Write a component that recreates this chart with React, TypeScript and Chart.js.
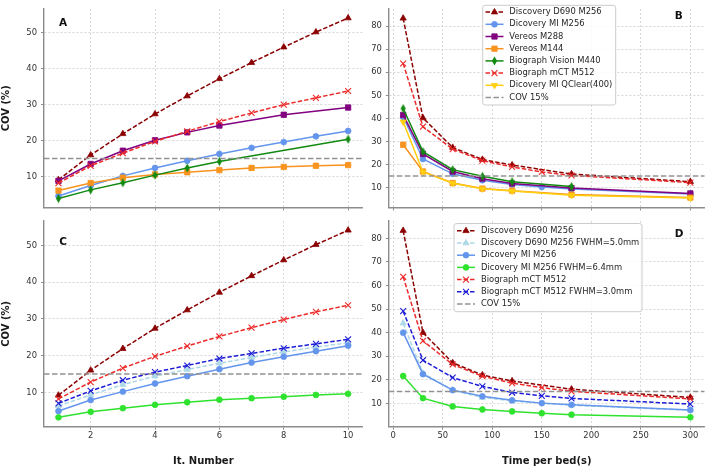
import React, { useEffect, useRef } from 'react';
import { Chart, registerables } from 'chart.js';
import { drawPoint } from 'chart.js/helpers';

Chart.register(...registerables);

// ---------- data ----------
const ITER = [1, 2, 3, 4, 5, 6, 7, 8, 9, 10];
const TIME = [10, 30, 60, 90, 120, 150, 180, 300];
const ITER_TICKS = [2, 4, 6, 8, 10];
const TIME_TICKS = [0, 50, 100, 150, 200, 250, 300];
const COV_TICKS_LEFT = [10, 20, 30, 40, 50];
const COV_TICKS_RIGHT = [10, 20, 30, 40, 50, 60, 70, 80];
const COV_THRESHOLD = 15;

// Panel A (COV vs iteration number)
const A_D690 = [9.1, 16.0, 21.9, 27.4, 32.4, 37.2, 41.7, 46.0, 50.2, 54.1];
const A_MI = [4.6, 7.5, 10.2, 12.4, 14.4, 16.3, 18.0, 19.6, 21.2, 22.7];
const A_VEREOS288 = [8.8, 13.5, 17.2, 20.1, 22.3, 24.2, null, 27.2, null, 29.2];
const A_VEREOS144 = [6.1, 8.2, 9.7, 10.6, 11.2, 11.8, 12.4, 12.7, 13.0, 13.2];
const A_VISION = [3.9, 6.3, 8.3, 10.4, 12.4, 14.2, null, null, null, 20.4];
const A_MCT = [8.2, 13.0, 16.5, 19.8, 22.6, 25.3, 27.7, 30.0, 31.9, 33.8];

// Panel B (COV vs time per bed)
const B_D690 = [83.4, 40.2, 27.4, 22.2, 19.8, null, 15.9, 12.6];
const B_MI = [40.6, 22.4, 16.0, 13.2, 11.4, 10.3, 9.4, 7.3];
const B_VEREOS288 = [41.5, 24.6, 17.0, 13.9, 11.8, null, 9.8, 7.5];
const B_VEREOS144 = [28.6, 17.0, 12.0, 9.6, 8.7, null, 7.0, 5.7];
const B_VISION = [44.3, 25.6, 17.8, 14.9, 12.6, null, 10.5, null];
const B_MCT = [63.8, 36.4, 26.7, 21.7, 19.0, 16.8, 15.3, 12.2];
const B_QCLEAR = [38.5, 16.8, 11.9, 9.5, 8.5, null, 6.7, 5.5];

// Panel C (COV vs iteration number, with post-filters)
const C_D690 = [9.2, 16.0, 21.9, 27.4, 32.4, 37.2, 41.7, 46.0, 50.2, 54.1];
const C_D690_FWHM = [6.3, 9.3, 12.1, 14.4, 16.2, 17.9, 19.5, 21.0, 22.3, 23.5];
const C_MI = [4.9, 7.9, 10.2, 12.4, 14.4, 16.3, 18.1, 19.7, 21.2, 22.7];
const C_MI_FWHM = [3.2, 4.7, 5.7, 6.6, 7.3, 8.0, 8.4, 8.8, 9.3, 9.6];
const C_MCT = [8.2, 12.8, 16.6, 19.8, 22.6, 25.2, 27.6, 29.8, 31.9, 33.7];
const C_MCT_FWHM = [7.0, 10.4, 13.3, 15.5, 17.3, 19.2, 20.6, 22.0, 23.2, 24.4];

// Panel D (COV vs time per bed, with post-filters)
const D_D690 = [83.3, 40.0, 27.2, 22.0, 19.5, null, 16.0, 12.5];
const D_D690_FWHM = [44.0, 22.8, 15.6, 12.5, 11.0, null, 9.2, 7.1];
const D_MI = [40.0, 22.4, 15.6, 13.0, 11.3, 10.1, 9.4, 7.2];
const D_MI_FWHM = [21.6, 12.2, 8.7, 7.4, 6.6, 5.8, 5.2, 4.1];
const D_MCT = [63.7, 36.5, 26.5, 21.5, 18.6, 16.7, 15.1, 11.9];
const D_MCT_FWHM = [49.1, 28.3, 20.9, 17.2, 14.6, 13.2, 12.1, 9.7];

// ---------- styles ----------
const FONT = '"DejaVu Sans", "Liberation Sans", sans-serif';
const AXIS_GRAY = '#8c8c8c';
const GRID_GRAY = '#cdcdcd';

function thinDiamond(color: string) {
  const c = document.createElement('canvas');
  c.width = 7;
  c.height = 10;
  const g = c.getContext('2d')!;
  g.fillStyle = color;
  g.beginPath();
  g.moveTo(3.5, 0.5);
  g.lineTo(6.1, 5);
  g.lineTo(3.5, 9.5);
  g.lineTo(0.9, 5);
  g.closePath();
  g.fill();
  return c;
}

type St = { color: string; dash: number[]; style: any; radius: number; rotation?: number; bw?: number };

const ST: Record<string, St> = {
  d690: { color: '#8b0000', dash: [4.5, 2], style: 'triangle', radius: 3.6 },
  mi: { color: '#6495ed', dash: [], style: 'circle', radius: 2.9 },
  v288: { color: '#800080', dash: [], style: 'rect', radius: 3.8 },
  v144: { color: '#f7931e', dash: [], style: 'rect', radius: 3.8 },
  vision: { color: '#128a12', dash: [], style: 'diamond', radius: 3 },
  mct: { color: '#ec2a2a', dash: [4.5, 2], style: 'crossRot', radius: 4.2, bw: 1.1 },
  qclear: { color: '#ffcf10', dash: [], style: 'triangle', radius: 3.6, rotation: 180 },
  d690f: { color: '#add8e6', dash: [4.5, 2], style: 'triangle', radius: 3.6 },
  mif: { color: '#2ee22e', dash: [], style: 'circle', radius: 2.9 },
  mctf: { color: '#1c1cd6', dash: [4.5, 2], style: 'crossRot', radius: 4.2, bw: 1.1 },
};

function series(label: string, xs: number[], ys: (number | null)[], st: St, i: number) {
  const style = st.style === 'diamond' ? thinDiamond(st.color) : st.style;
  return {
    label,
    data: xs.map((x, k) => ({ x, y: ys[k] })).filter((p) => p.y !== null && p.y !== undefined),
    borderColor: st.color,
    backgroundColor: st.color,
    borderWidth: 1.5,
    borderDash: st.dash,
    pointStyle: style,
    pointRadius: st.radius,
    pointRotation: st.rotation || 0,
    pointBackgroundColor: st.color,
    pointBorderColor: st.color,
    pointBorderWidth: st.bw ?? 0.8,
    tension: 0,
    fill: false,
    order: -i,
  };
}

function threshold(xmin: number, xmax: number, i: number) {
  return {
    label: 'COV 15%',
    data: [
      { x: xmin, y: COV_THRESHOLD },
      { x: xmax, y: COV_THRESHOLD },
    ],
    borderColor: '#939393',
    backgroundColor: '#939393',
    borderWidth: 1.5,
    borderDash: [5.5, 2.5],
    pointRadius: 0,
    fill: false,
    order: -i,
  };
}

// ---------- legend plugin ----------
const boxLegend = {
  id: 'boxLegend',
  afterDraw(chart: any, _args: any, opts: any) {
    if (!opts || !opts.show) return;
    const ctx = chart.ctx as CanvasRenderingContext2D;
    const { x, y, w, h, firstY, rowH, sampleX, sampleW, textX } = opts;
    ctx.save();
    const r = 2.5;
    ctx.beginPath();
    ctx.moveTo(x + r, y);
    ctx.arcTo(x + w, y, x + w, y + h, r);
    ctx.arcTo(x + w, y + h, x, y + h, r);
    ctx.arcTo(x, y + h, x, y, r);
    ctx.arcTo(x, y, x + w, y, r);
    ctx.closePath();
    ctx.fillStyle = 'rgba(255,255,255,0.85)';
    ctx.fill();
    ctx.strokeStyle = '#cccccc';
    ctx.lineWidth = 1;
    ctx.stroke();
    chart.data.datasets.forEach((ds: any, i: number) => {
      const cy = firstY + i * rowH;
      ctx.save();
      ctx.strokeStyle = ds.borderColor;
      ctx.lineWidth = ds.borderWidth;
      ctx.setLineDash(ds.borderDash || []);
      ctx.beginPath();
      ctx.moveTo(sampleX, cy);
      ctx.lineTo(sampleX + sampleW, cy);
      ctx.stroke();
      ctx.setLineDash([]);
      if (ds.pointRadius > 0) {
        ctx.fillStyle = ds.pointBackgroundColor;
        ctx.strokeStyle = ds.pointBorderColor;
        ctx.lineWidth = ds.pointBorderWidth;
        drawPoint(
          ctx,
          { pointStyle: ds.pointStyle, rotation: ds.pointRotation || 0, radius: ds.pointRadius, borderWidth: ds.pointBorderWidth } as any,
          sampleX + sampleW / 2,
          cy
        );
      }
      ctx.restore();
      ctx.fillStyle = '#262626';
      ctx.font = '8.4px ' + FONT;
      ctx.textBaseline = 'middle';
      ctx.textAlign = 'left';
      ctx.fillText(ds.label, textX, cy);
    });
    ctx.restore();
  },
};

// ---------- chart config builder ----------
type PanelCfg = {
  datasets: any[];
  xMin: number;
  xMax: number;
  yMin: number;
  yMax: number;
  xTicks: number[];
  yTicks: number[];
  xLabels: boolean;
  xTitle: string;
  yTitle: string;
  yW: number;
  xH: number;
  padding: { left: number; right: number; top: number; bottom: number };
  legend: any;
};

function makeConfig(p: PanelCfg): any {
  return {
    type: 'line',
    data: { datasets: p.datasets },
    plugins: [boxLegend],
    options: {
      responsive: false,
      animation: false,
      events: [],
      layout: { padding: p.padding },
      plugins: {
        legend: { display: false },
        tooltip: { enabled: false },
        title: { display: false },
        boxLegend: p.legend,
      },
      scales: {
        x: {
          type: 'linear',
          position: 'bottom',
          min: p.xMin,
          max: p.xMax,
          afterBuildTicks: (s: any) => {
            s.ticks = p.xTicks.map((v) => ({ value: v }));
          },
          afterFit: (s: any) => {
            s.height = p.xH;
          },
          ticks: {
            display: p.xLabels,
            autoSkip: false,
            maxRotation: 0,
            padding: 1,
            color: '#333333',
            font: { size: 8.4, family: FONT },
            callback: (v: any) => String(v),
          },
          grid: {
            color: GRID_GRAY,
            lineWidth: 0.8,
            drawTicks: true,
            tickLength: 3,
            tickColor: AXIS_GRAY,
            tickWidth: 1,
            tickBorderDash: [],
          },
          border: { display: true, color: AXIS_GRAY, width: 1.4, dash: [2, 2] },
          title: {
            display: !!p.xTitle,
            text: p.xTitle,
            color: '#1a1a1a',
            font: { size: 10, weight: 'bold', family: FONT },
            padding: { top: 0, bottom: 1 },
          },
        },
        y: {
          type: 'linear',
          position: 'left',
          min: p.yMin,
          max: p.yMax,
          afterBuildTicks: (s: any) => {
            s.ticks = p.yTicks.map((v) => ({ value: v }));
          },
          afterFit: (s: any) => {
            s.width = p.yW;
          },
          ticks: {
            padding: 4,
            color: '#333333',
            font: { size: 8.4, family: FONT },
            callback: (v: any) => String(v),
          },
          grid: {
            color: GRID_GRAY,
            lineWidth: 0.8,
            drawTicks: true,
            tickLength: 3,
            tickColor: AXIS_GRAY,
            tickWidth: 1,
            tickBorderDash: [],
          },
          border: { display: true, color: AXIS_GRAY, width: 1.4, dash: [2, 2] },
          title: {
            display: !!p.yTitle,
            text: p.yTitle,
            color: '#1a1a1a',
            font: { size: 10, weight: 'bold', family: FONT },
            padding: { top: 0, bottom: 0 },
          },
        },
      },
    },
  };
}

const W = 710;
const H = 468;
// plot-area edges
const LEFT_L = 44;
const LEFT_R = 362.6;
const RIGHT_L = 388.8;
const RIGHT_R = 708.9;
const TOP_T = 1.7;
const TOP_B = 207.5;
const BOT_T = 220.9;
const BOT_B = 426.7;

const IT_MIN = 0.55;
const IT_MAX = 10.45;
const T_MIN = -4.5;
const T_MAX = 314.5;

function buildPanels(): PanelCfg[] {
  const A = [
    series('Discovery D690 M256', ITER, A_D690, ST.d690, 0),
    series('Dicovery MI M256', ITER, A_MI, ST.mi, 1),
    series('Vereos M288', ITER, A_VEREOS288, ST.v288, 2),
    series('Vereos M144', ITER, A_VEREOS144, ST.v144, 3),
    series('Biograph Vision M440', ITER, A_VISION, ST.vision, 4),
    series('Biograph mCT M512', ITER, A_MCT, ST.mct, 5),
    threshold(IT_MIN, IT_MAX, 6),
  ];
  const B = [
    series('Discovery D690 M256', TIME, B_D690, ST.d690, 0),
    series('Dicovery MI M256', TIME, B_MI, ST.mi, 1),
    series('Vereos M288', TIME, B_VEREOS288, ST.v288, 2),
    series('Vereos M144', TIME, B_VEREOS144, ST.v144, 3),
    series('Biograph Vision M440', TIME, B_VISION, ST.vision, 4),
    series('Biograph mCT M512', TIME, B_MCT, ST.mct, 5),
    series('Dicovery MI QClear(400)', TIME, B_QCLEAR, ST.qclear, 6),
    threshold(T_MIN, T_MAX, 7),
  ];
  const C = [
    series('Discovery D690 M256', ITER, C_D690, ST.d690, 0),
    series('Discovery D690 M256 FWHM=5.0mm', ITER, C_D690_FWHM, ST.d690f, 1),
    series('Dicovery MI M256', ITER, C_MI, ST.mi, 2),
    series('Dicovery MI M256 FWHM=6.4mm', ITER, C_MI_FWHM, ST.mif, 3),
    series('Biograph mCT M512', ITER, C_MCT, ST.mct, 4),
    series('Biograph mCT M512 FWHM=3.0mm', ITER, C_MCT_FWHM, ST.mctf, 5),
    threshold(IT_MIN, IT_MAX, 6),
  ];
  const D = [
    series('Discovery D690 M256', TIME, D_D690, ST.d690, 0),
    series('Discovery D690 M256 FWHM=5.0mm', TIME, D_D690_FWHM, ST.d690f, 1),
    series('Dicovery MI M256', TIME, D_MI, ST.mi, 2),
    series('Dicovery MI M256 FWHM=6.4mm', TIME, D_MI_FWHM, ST.mif, 3),
    series('Biograph mCT M512', TIME, D_MCT, ST.mct, 4),
    series('Biograph mCT M512 FWHM=3.0mm', TIME, D_MCT_FWHM, ST.mctf, 5),
    threshold(T_MIN, T_MAX, 6),
  ];
  const topXH = 5;
  const botXH = H - BOT_B;
  const rightYW = 30;
  return [
    {
      datasets: A, xMin: IT_MIN, xMax: IT_MAX, yMin: 1.4, yMax: 56.6, xTicks: ITER_TICKS, yTicks: COV_TICKS_LEFT,
      xLabels: false, xTitle: '', yTitle: 'COV (%)', yW: LEFT_L, xH: topXH,
      padding: { left: 0, right: W - LEFT_R, top: TOP_T, bottom: H - TOP_B - topXH },
      legend: { show: false },
    },
    {
      datasets: B, xMin: T_MIN, xMax: T_MAX, yMin: 1.4, yMax: 87.4, xTicks: TIME_TICKS, yTicks: COV_TICKS_RIGHT,
      xLabels: false, xTitle: '', yTitle: '', yW: rightYW, xH: topXH,
      padding: { left: RIGHT_L - rightYW, right: W - RIGHT_R, top: TOP_T, bottom: H - TOP_B - topXH },
      legend: { show: true, x: 482.7, y: 5.3, w: 133, h: 99.7, firstY: 12.1, rowH: 12.2, sampleX: 485.5, sampleW: 18, textX: 509.3 },
    },
    {
      datasets: C, xMin: IT_MIN, xMax: IT_MAX, yMin: 0.65, yMax: 56.65, xTicks: ITER_TICKS, yTicks: COV_TICKS_LEFT,
      xLabels: true, xTitle: 'It. Number', yTitle: 'COV (%)', yW: LEFT_L, xH: botXH,
      padding: { left: 0, right: W - LEFT_R, top: BOT_T, bottom: 0 },
      legend: { show: false },
    },
    {
      datasets: D, xMin: T_MIN, xMax: T_MAX, yMin: 0.1, yMax: 87.4, xTicks: TIME_TICKS, yTicks: COV_TICKS_RIGHT,
      xLabels: true, xTitle: 'Time per bed(s)', yTitle: '', yW: rightYW, xH: botXH,
      padding: { left: RIGHT_L - rightYW, right: W - RIGHT_R, top: BOT_T, bottom: 0 },
      legend: { show: true, x: 454, y: 223.5, w: 188, h: 88.2, firstY: 230.8, rowH: 12.2, sampleX: 457, sampleW: 18, textX: 481 },
    },
  ];
}

const LETTERS = [
  { t: 'A', x: 63, y: 22.2 },
  { t: 'B', x: 678.7, y: 14.5 },
  { t: 'C', x: 63, y: 240.5 },
  { t: 'D', x: 679, y: 233.3 },
];

export default function App() {
  const refs = [useRef<HTMLCanvasElement>(null), useRef<HTMLCanvasElement>(null), useRef<HTMLCanvasElement>(null), useRef<HTMLCanvasElement>(null)];

  useEffect(() => {
    Chart.defaults.font.family = FONT;
    const panels = buildPanels();
    const charts = panels.map((p, i) => new Chart(refs[i].current as HTMLCanvasElement, makeConfig(p)));
    return () => charts.forEach((c) => c.destroy());
  }, []);

  return (
    <div style={{ position: 'absolute', left: 0, top: 0, width: W, height: H, background: '#ffffff', overflow: 'hidden' }}>
      {refs.map((r, i) => (
        <canvas key={i} ref={r} width={W} height={H} style={{ position: 'absolute', left: 0, top: 0, width: W, height: H, display: 'block' }} />
      ))}
      {LETTERS.map((l) => (
        <div
          key={l.t}
          style={{
            position: 'absolute',
            left: l.x,
            top: l.y,
            transform: 'translate(-50%, -50%)',
            fontFamily: FONT,
            fontWeight: 'bold',
            fontSize: 10.5,
            lineHeight: '10.5px',
            color: '#111',
          }}
        >
          {l.t}
        </div>
      ))}
    </div>
  );
}
